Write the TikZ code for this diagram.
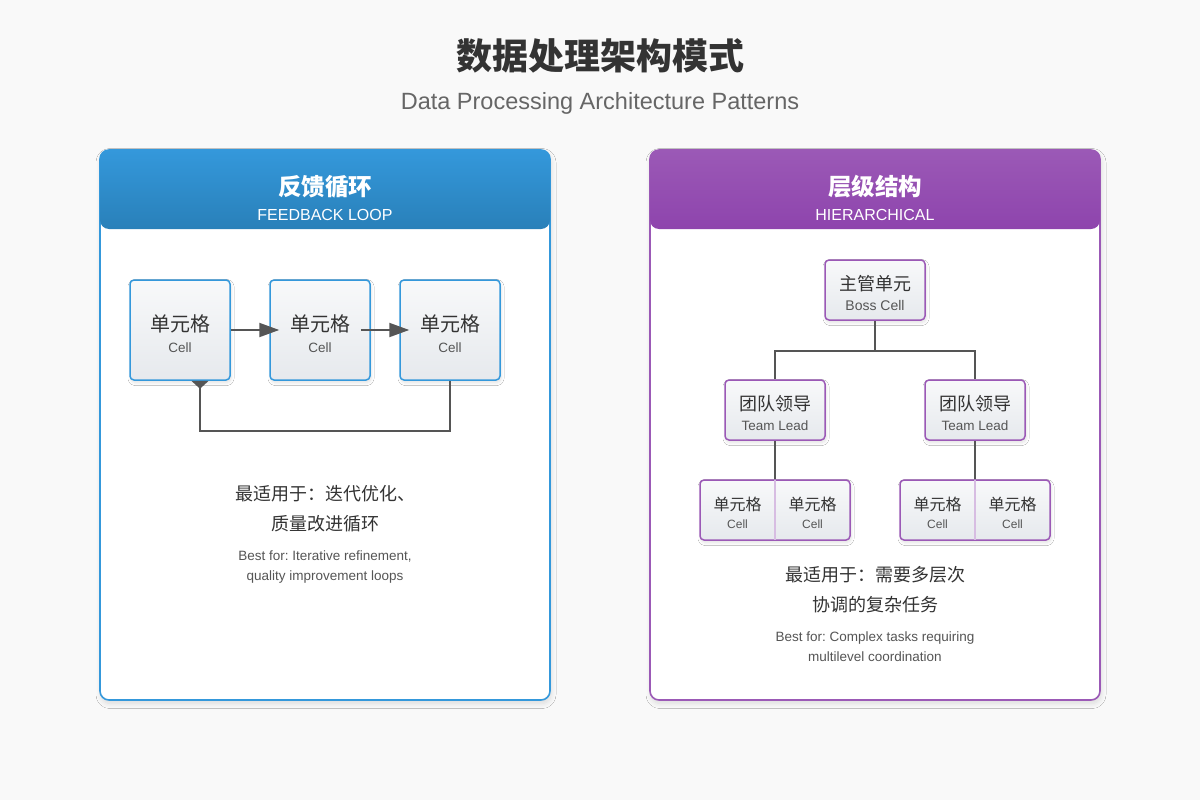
\documentclass[tikz,border=0pt]{standalone}
\usepackage{fontspec}
\setmainfont{Liberation Sans}
\newfontfamily\cjk{Noto Sans CJK SC}
\usepackage{xcolor}
\usepackage{tikz}
\usetikzlibrary{arrows.meta,positioning,shadows.blur}
\frenchspacing

\definecolor{pagebg}{HTML}{F9F9F9}
\definecolor{ink}{HTML}{333333}
\definecolor{inksoft}{HTML}{555555}
\definecolor{subgray}{HTML}{666666}
\definecolor{fbblue}{HTML}{3498DB}
\definecolor{fbdark}{HTML}{2980B9}
\definecolor{hipurple}{HTML}{9B59B6}
\definecolor{hidark}{HTML}{8E44AD}
\definecolor{hilight}{HTML}{D7BDE2}
\definecolor{celltop}{HTML}{F8F9FA}
\definecolor{cellbot}{HTML}{E6E9ED}
\definecolor{wire}{HTML}{555555}

\newcommand{\zh}[2]{{\cjk\fontsize{#1}{#1}\selectfont\rule{0pt}{1.2em}#2}}
\newcommand{\en}[2]{{\fontsize{#1}{#1}\selectfont\color{inksoft}#2}}

\begin{document}
\begin{tikzpicture}[
    x=1pt, y=-1pt,
    >={Triangle[length=20pt,width=14pt]},
    panel/.style={draw=#1, line width=1.6pt, rounded corners=9pt, fill=white,
      minimum width=450pt, minimum height=550pt,
      blur shadow={shadow xshift=1pt, shadow yshift=-3.5pt, shadow opacity=12, shadow blur radius=5pt, shadow blur steps=10}},
    panelhead/.style 2 args={rounded corners=9pt, top color=#1, bottom color=#2,
      minimum width=450pt, minimum height=79pt, inner sep=0pt},
    headtitle/.style={anchor=base, text=white, font=\cjk\bfseries\fontsize{23.5}{28}\selectfont},
    headsub/.style={anchor=base, text=white, font=\fontsize{16}{19}\selectfont},
    unit/.style={draw=#1, line width=1.5pt, rounded corners=4pt, top color=celltop, bottom color=cellbot,
      align=center, text=ink, inner sep=0pt,
      blur shadow={shadow xshift=1pt, shadow yshift=-2.5pt, shadow opacity=12, shadow blur radius=3pt, shadow blur steps=8}},
    unit/.default=fbblue,
    cellbox/.style={unit=fbblue, minimum width=100pt, minimum height=100pt, font=\fontsize{10}{20.5}\selectfont},
    lead/.style={unit=hipurple, minimum width=100pt, minimum height=60pt, font=\fontsize{10}{20}\selectfont},
    cellrow/.style={unit=hipurple, minimum width=150pt, minimum height=60pt},
    member/.style={align=center, text=ink, inner sep=0pt, font=\fontsize{10}{18}\selectfont},
    link/.style={draw=wire, line width=2pt},
    divider/.style={draw=hilight, line width=1.2pt},
    note/.style={align=center, text=ink, font=\cjk\fontsize{18}{30}\selectfont},
    notesub/.style={align=center, text=inksoft, font=\fontsize{13.5}{20}\selectfont}
  ]
    \fill[pagebg] (0,0) rectangle (1200,800);
    \useasboundingbox (0,0) rectangle (1200,800);

    \node[anchor=base, text=ink, font=\cjk\bfseries\fontsize{36}{40}\selectfont] (title) at (600,70) {数据处理架构模式};
    \node[anchor=base, text=subgray, font=\fontsize{23.5}{28}\selectfont] (subtitle) at (600,110) {Data Processing Architecture Patterns};

    \node[panel=fbblue] (fb) at (325,425) {};
    \node[panelhead={fbblue}{fbdark}] (fbHead) at (325,189.5) {};
    \node[headtitle] (fbTitle) at (325,195) {反馈循环};
    \node[headsub] (fbSub) at (325,220) {FEEDBACK LOOP};

    \node[panel=hipurple] (hi) at (875,425) {};
    \node[panelhead={hipurple}{hidark}] (hiHead) at (875,189.5) {};
    \node[headtitle] (hiTitle) at (875,195) {层级结构};
    \node[headsub] (hiSub) at (875,220) {HIERARCHICAL};

    \foreach \name/\x in {c1/180, c2/320, c3/450} {
      \node[cellbox] (\name) at (\x,330) {\zh{20}{单元格}\\\en{13.5}{Cell}};
    }
    \draw[link, ->] (c1.east) -- ([xshift=10pt]c2.west);
    \draw[link, ->] ([xshift=-10pt]c2.east) -- ([xshift=10pt]c3.west);
    \draw[link, {Triangle[reversed,length=8pt,width=17pt]}-] ([xshift=20pt]c1.south) -- ++(0,50) -| (c3.south);

    \node[note] (fbNote) at (325,509) {最适用于：迭代优化、\\质量改进循环};
    \node[notesub] (fbNoteEn) at (325,567) {Best for: Iterative refinement,\\quality improvement loops};

    \node[lead] (boss) at (875,290) {\zh{18}{主管单元}\\\en{14}{Boss Cell}};
    \node[lead] (leadA) at (775,410) {\zh{18}{团队领导}\\\en{13.5}{Team Lead}};
    \node[lead] (leadB) at (975,410) {\zh{18}{团队领导}\\\en{13.5}{Team Lead}};
    \node[cellrow] (rowA) at (775,510) {};
    \node[cellrow] (rowB) at (975,510) {};
    \foreach \row in {rowA,rowB} {
      \node[member] (\row L) at ([xshift=-37.5pt]\row.center) {\zh{16}{单元格}\\\en{12}{Cell}};
      \node[member] (\row R) at ([xshift=37.5pt]\row.center) {\zh{16}{单元格}\\\en{12}{Cell}};
      \draw[divider] ([yshift=-0.75pt]\row.north) -- ([yshift=0.75pt]\row.south);
    }
    \draw[link] (boss.south) -- ++(0,30) coordinate (fork) -| (leadA.north);
    \draw[link] (fork) -| (leadB.north);
    \draw[link] (leadA.south) -- (rowA.north);
    \draw[link] (leadB.south) -- (rowB.north);

    \node[note] (hiNote) at (875,590) {最适用于：需要多层次\\协调的复杂任务};
    \node[notesub] (hiNoteEn) at (875,647) {Best for: Complex tasks requiring\\multilevel coordination};
  \end{tikzpicture}
\end{document}
